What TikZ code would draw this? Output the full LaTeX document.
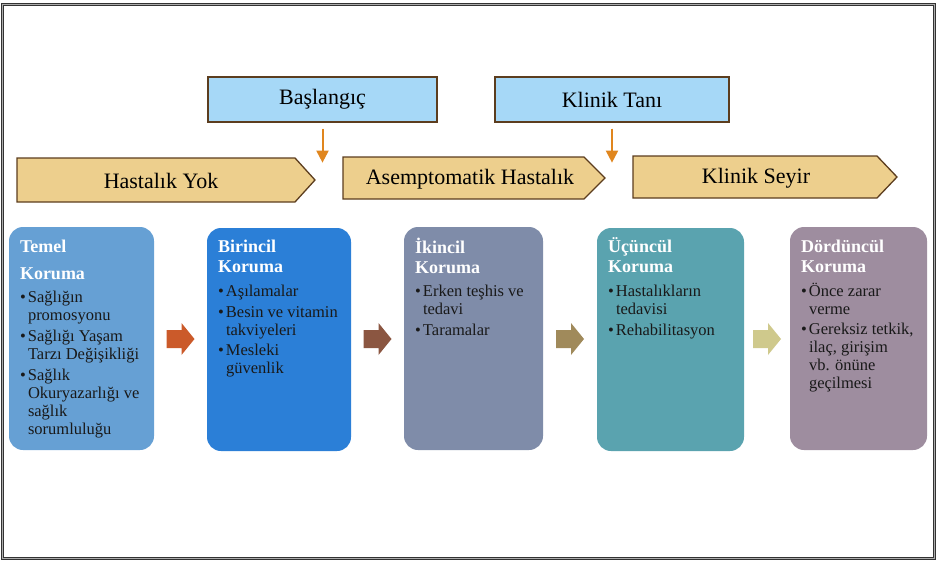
\documentclass[tikz,border=0pt]{standalone}
\usepackage{fontspec}
\setmainfont{Liberation Serif}
\usetikzlibrary{positioning,arrows.meta,calc}
\definecolor{acikmavi}{HTML}{A6D8F7}
\definecolor{kahve}{HTML}{5C3D1E}
\definecolor{ten}{HTML}{EDCF8D}
\definecolor{turuncu}{HTML}{E0861E}
\definecolor{renkA}{HTML}{66A0D4}
\definecolor{renkB}{HTML}{2B7FD7}
\definecolor{renkC}{HTML}{7F8CA9}
\definecolor{renkD}{HTML}{5AA3AF}
\definecolor{renkE}{HTML}{9E8D9F}
\definecolor{okA}{HTML}{CB5A2A}
\definecolor{okB}{HTML}{8B5641}
\definecolor{okC}{HTML}{A08A5B}
\definecolor{okD}{HTML}{CFC98C}
\newcommand{\mad}{\strut\makebox[8pt][l]{\textbullet}}
\newcommand{\ic}{\strut\hspace*{8pt}}
\begin{document}
\begin{tikzpicture}[x=1pt, y=-1pt, >={Triangle[width=12pt,length=12pt]},
  evre/.style={draw=kahve, fill=ten, line width=1.3pt},
  evreyazi/.style={inner sep=0pt, font=\fontsize{22}{24}\selectfont},
  tani/.style={draw=kahve, fill=acikmavi, line width=1.3pt, minimum height=45pt, font=\fontsize{22}{24}\selectfont},
  kutu/.style={rounded corners=14pt, minimum height=223pt, inner sep=0pt},
  baslik/.style={align=left, inner sep=0pt, text=white, font=\fontsize{18}{20}\selectfont\bfseries},
  liste/.style={align=left, inner sep=0pt, text=black!90, font=\fontsize{16.5}{18}\selectfont},
  ok/.style={->, draw=turuncu, fill=turuncu, line width=2pt},
  blokok/.pic={\fill (-14,-9) -- (1,-9) -- (1,-16) -- (14,0) -- (1,16) -- (1,9) -- (-14,9) -- cycle;}]
\useasboundingbox (0,0) rectangle (937,562);
\draw[draw=gray!40!black, line width=0.9pt, double=gray!65, double distance=1.4pt] (2.2,4.5) rectangle (934.5,558.5);
% tani kutulari
\node[tani, minimum width=229pt](bas) at (322.5,99.5){Başlangıç};
\node[tani, minimum width=234pt](tan) at (612,99.5){Klinik Tanı};
% evreler
\draw[evre] (17,158) -- (295,158) -- (315,180) -- (295,202) -- (17,202) -- cycle;
\draw[evre] (343,157) -- (584,157) -- (605,178) -- (584,199) -- (343,199) -- cycle;
\draw[evre] (633,156) -- (877,156) -- (897,177) -- (877,198) -- (633,198) -- cycle;
\node[evreyazi](yok) at (161,181){Hastalık Yok};
\node[evreyazi](ase) at (470,179){Asemptomatik Hastalık};
\node[evreyazi](sey) at (756,178){Klinik Seyir};
\coordinate[below=40pt of bas.south](basuc);
\coordinate[below=40pt of tan.south](tanuc);
\draw[ok]([yshift=-6pt]bas.south)--(basuc);
\draw[ok]([yshift=-6pt]tan.south)--(tanuc);
% koruma kutulari
\node[kutu, fill=renkA, minimum width=145pt](temel) at (81.5,338.5){};
\node[kutu, fill=renkB, minimum width=144pt](bir) at (279,339.5){};
\node[kutu, fill=renkC, minimum width=139pt](iki) at (473.5,338.5){};
\node[kutu, fill=renkD, minimum width=147pt](uc) at (670.5,339.5){};
\node[kutu, fill=renkE, minimum width=137pt](dort) at (858.5,338.5){};
\node[baslik, below right=11pt and 11pt of temel.north west](temelT){\strut Temel\\[7pt]\strut Koruma};
\node[baslik, below right=10pt and 11pt of bir.north west](birT){\strut Birincil\\\strut Koruma};
\node[baslik, below right=11pt and 11pt of iki.north west](ikiT){\strut İkincil\\\strut Koruma};
\node[baslik, below right=10pt and 11pt of uc.north west](ucT){\strut Üçüncül\\\strut Koruma};
\node[baslik, below right=11pt and 11pt of dort.north west](dortT){\strut Dördüncül\\\strut Koruma};
\node[liste, below right=63pt and 11pt of temel.north west](temelL){\mad Sağlığın\\\ic promosyonu\\[3pt]
  \mad Sağlığı Yaşam\\\ic Tarzı Değişikliği\\[3pt]
  \mad Sağlık\\\ic Okuryazarlığı ve\\\ic sağlık\\\ic sorumluluğu};
\node[liste, below right=56pt and 11pt of bir.north west](birL){\mad Aşılamalar\\[2.5pt]
  \mad Besin ve vitamin\\\ic takviyeleri\\[2.5pt]
  \mad Mesleki\\\ic güvenlik};
\node[liste, below right=57pt and 11pt of iki.north west](ikiL){\mad Erken teşhis ve\\\ic tedavi\\[2.5pt]
  \mad Taramalar};
\node[liste, below right=56pt and 11pt of uc.north west](ucL){\mad Hastalıkların\\\ic tedavisi\\[2.5pt]
  \mad Rehabilitasyon};
\node[liste, below right=56pt and 11pt of dort.north west](dortL){\mad Önce zarar\\\ic verme\\[2.5pt]
  \mad Gereksiz tetkik,\\\ic ilaç, girişim\\\ic vb. önüne\\\ic geçilmesi};
% bloklu oklar
\pic[fill=okA] at ($(temel.east)!0.5!(bir.west)$) {blokok};
\pic[fill=okB] at ($(bir.east)!0.5!(iki.west)$) {blokok};
\pic[fill=okC] at ($(iki.east)!0.5!(uc.west)$) {blokok};
\pic[fill=okD] at ($(uc.east)!0.5!(dort.west)$) {blokok};
\end{tikzpicture}
\end{document}
